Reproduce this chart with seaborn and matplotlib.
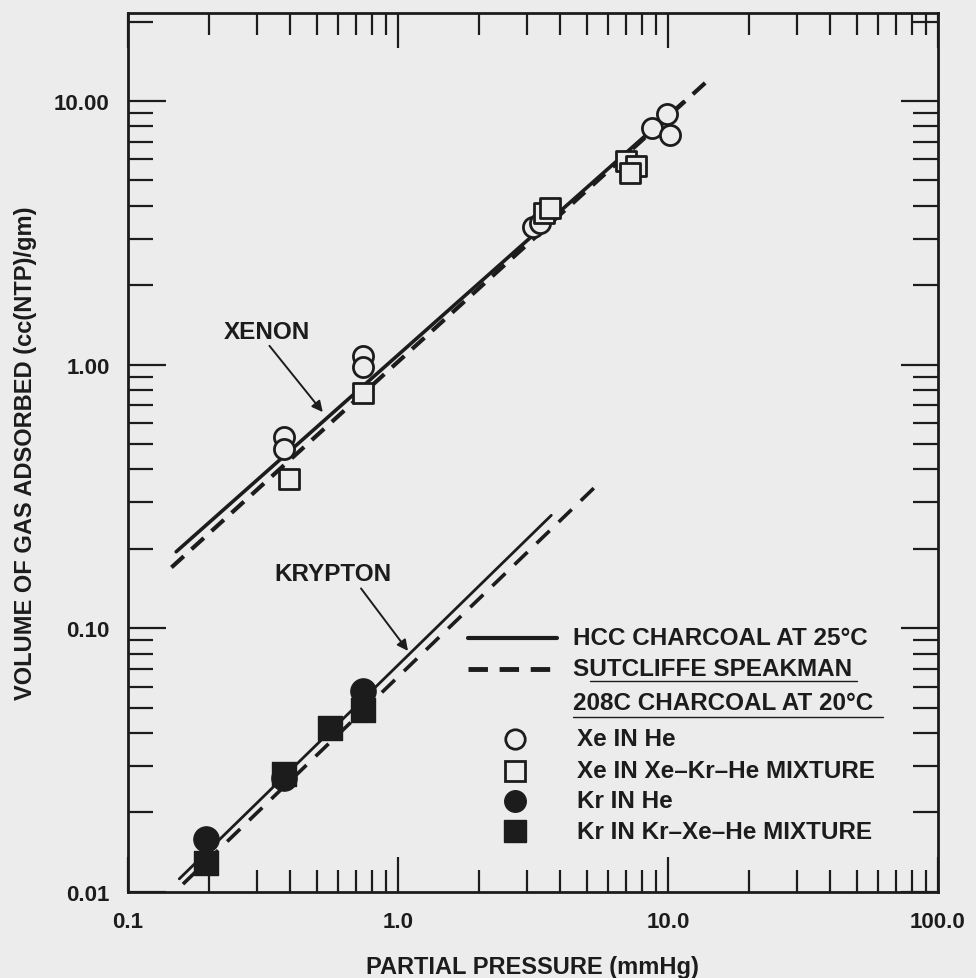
import matplotlib
matplotlib.use("Agg")
import matplotlib.pyplot as plt
from matplotlib.lines import Line2D
from matplotlib.ticker import FixedLocator, FixedFormatter, LogLocator, NullFormatter
import seaborn as sns

# Measured adsorption points (partial pressure mmHg, volume cc(NTP)/gm)
xe_he_p = [0.38, 0.38, 0.745, 0.745, 3.16, 3.36, 8.7, 9.9, 10.2]
xe_he_v = [0.53, 0.48, 1.08, 0.975, 3.32, 3.45, 7.9, 8.9, 7.4]
xe_mix_p = [0.394, 0.745, 3.48, 3.66, 7.0, 7.65, 7.26]
xe_mix_v = [0.369, 0.78, 3.77, 3.91, 5.93, 5.66, 5.32]
kr_he_p = [0.194, 0.38, 0.745]
kr_he_v = [0.0158, 0.027, 0.058]
kr_mix_p = [0.194, 0.38, 0.56, 0.745]
kr_mix_v = [0.0129, 0.028, 0.042, 0.049]

# Isotherm lines (end points)
xe_hcc_p = [0.151, 11.4]
xe_hcc_v = [0.195, 9.9]
xe_ss_p = [0.145, 14.0]
xe_ss_v = [0.170, 11.9]
kr_hcc_p = [0.155, 3.7]
kr_hcc_v = [0.0112, 0.268]
kr_ss_p = [0.16, 5.4]
kr_ss_v = [0.0107, 0.345]

x_ticks = [0.1, 1.0, 10.0, 100.0]
x_ticklabels = ["0.1", "1.0", "10.0", "100.0"]
y_ticks = [0.01, 0.1, 1.0, 10.0]
y_ticklabels = ["0.01", "0.10", "1.00", "10.00"]

legend_lines = ["HCC CHARCOAL AT 25°C", "SUTCLIFFE SPEAKMAN"]
legend_heading = "208C CHARCOAL AT 20°C"
legend_markers = ["Xe IN He", "Xe IN Xe\u2013Kr\u2013He MIXTURE",
                  "Kr IN He", "Kr IN Kr\u2013Xe\u2013He MIXTURE"]

INK = "#1c1c1c"
PAPER = "#ececec"

sns.set_style("ticks")
plt.rcParams["font.family"] = ["Liberation Sans", "DejaVu Sans"]
plt.rcParams["font.weight"] = "bold"

fig = plt.figure(figsize=(9.76, 9.79), dpi=100, facecolor=PAPER)
ax = fig.add_axes([0.131, 0.088, 0.830, 0.898])
ax.set_facecolor(PAPER)
ax.set_xscale("log")
ax.set_yscale("log")
ax.set_xlim(0.1, 100)
ax.set_ylim(0.01, 21.6)

# isotherm lines
sns.lineplot(x=xe_hcc_p, y=xe_hcc_v, ax=ax, color=INK, lw=2.6)
sns.lineplot(x=xe_ss_p, y=xe_ss_v, ax=ax, color=INK, lw=3.0, linestyle=(0, (4, 2.5)))
sns.lineplot(x=kr_hcc_p, y=kr_hcc_v, ax=ax, color=INK, lw=2.0)
sns.lineplot(x=kr_ss_p, y=kr_ss_v, ax=ax, color=INK, lw=2.6, linestyle=(0, (5, 3.5)))

# measured points
sns.scatterplot(x=xe_he_p, y=xe_he_v, ax=ax, marker="o", s=210,
                facecolor=PAPER, edgecolor=INK, linewidth=2.0, zorder=5)
sns.scatterplot(x=xe_mix_p, y=xe_mix_v, ax=ax, marker="s", s=190,
                facecolor=PAPER, edgecolor=INK, linewidth=2.0, zorder=5)
sns.scatterplot(x=kr_he_p, y=kr_he_v, ax=ax, marker="o", s=330,
                color=INK, edgecolor=INK, linewidth=1.0, zorder=5)
sns.scatterplot(x=kr_mix_p, y=kr_mix_v, ax=ax, marker="s", s=300,
                color=INK, edgecolor=INK, linewidth=1.0, zorder=5)

# axes styling
for sp in ax.spines.values():
    sp.set_visible(True)
    sp.set_linewidth(2.0)
    sp.set_color(INK)

ax.xaxis.set_major_locator(FixedLocator(x_ticks))
ax.xaxis.set_major_formatter(FixedFormatter(x_ticklabels))
ax.yaxis.set_major_locator(FixedLocator(y_ticks))
ax.yaxis.set_major_formatter(FixedFormatter(y_ticklabels))
for axis in (ax.xaxis, ax.yaxis):
    axis.set_minor_locator(LogLocator(base=10, subs=range(2, 10), numticks=20))
    axis.set_minor_formatter(NullFormatter())

ax.tick_params(which="both", direction="in", top=True, right=True,
               color=INK, width=1.6)
ax.tick_params(axis="y", which="major", length=27, labelsize=16, pad=13)
ax.tick_params(axis="y", which="minor", length=18)
ax.tick_params(axis="x", which="major", length=25, labelsize=16, pad=14)
ax.tick_params(axis="x", which="minor", length=16)
for lbl in ax.get_xticklabels() + ax.get_yticklabels():
    lbl.set_fontweight("bold")
    lbl.set_color(INK)

ax.set_xlabel("PARTIAL PRESSURE (mmHg)", fontsize=17, fontweight="bold",
              color=INK, labelpad=16)
ax.set_ylabel("VOLUME OF GAS ADSORBED (cc(NTP)/gm)", fontsize=17,
              fontweight="bold", color=INK, labelpad=12)

# curve labels
arrow = dict(arrowstyle="-|>", color=INK, lw=1.4, mutation_scale=16,
             shrinkA=0, shrinkB=0)
ax.annotate("XENON", xy=(0.527, 0.66), xytext=(0.327, 1.34),
            fontsize=17.5, fontweight="bold", color=INK, ha="center", va="center",
            arrowprops=dict(arrow, relpos=(0.5, 0.0)))
ax.annotate("KRYPTON", xy=(1.09, 0.082), xytext=(0.574, 0.161),
            fontsize=17.5, fontweight="bold", color=INK, ha="center", va="center",
            arrowprops=dict(arrow, relpos=(0.72, 0.0)))

# key
T = ax.transAxes
ax.add_line(Line2D([0.420, 0.530], [0.289, 0.289], transform=T, color=INK, lw=3.0))
ax.add_line(Line2D([0.420, 0.530], [0.254, 0.254], transform=T, color=INK, lw=3.5,
                   linestyle=(0, (4, 2.4))))
ax.text(0.549, 0.289, legend_lines[0], transform=T, fontsize=17.5,
        fontweight="bold", color=INK, va="center")
ax.text(0.549, 0.254, legend_lines[1], transform=T, fontsize=17.5,
        fontweight="bold", color=INK, va="center")
ax.add_line(Line2D([0.570, 0.900], [0.240, 0.240], transform=T, color=INK, lw=1.0))
ax.text(0.549, 0.215, legend_heading, transform=T, fontsize=17.5,
        fontweight="bold", color=INK, va="center")
ax.add_line(Line2D([0.549, 0.932], [0.199, 0.199], transform=T, color=INK, lw=1.0))

key_y = [0.174, 0.138, 0.1035, 0.069]
key_style = [("o", PAPER, 2.0, 14), ("s", PAPER, 2.0, 14),
             ("o", INK, 1.0, 15.5), ("s", INK, 1.0, 15.5)]
for yy, (mk, fc, lw, ms), txt in zip(key_y, key_style, legend_markers):
    ax.add_line(Line2D([0.478], [yy], transform=T, marker=mk, markersize=ms,
                       markerfacecolor=fc, markeredgecolor=INK,
                       markeredgewidth=lw, linestyle="none"))
    ax.text(0.554, yy, txt, transform=T, fontsize=17.5, fontweight="bold",
            color=INK, va="center")

fig.savefig("out.png", dpi=100, facecolor=PAPER)
